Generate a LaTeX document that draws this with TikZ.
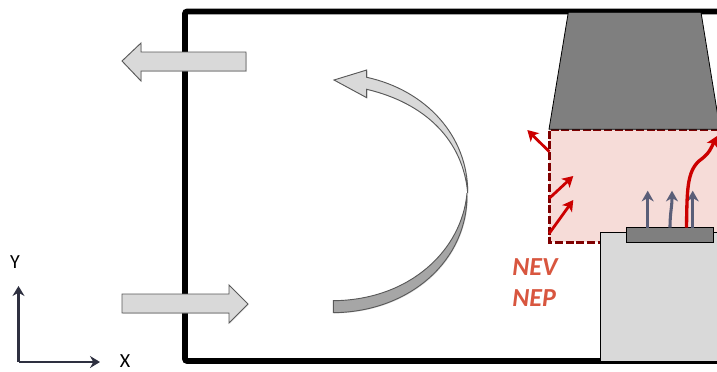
\documentclass[tikz,border=0pt]{standalone}
\usepackage{fontspec}
\setmainfont{Carlito}
\usetikzlibrary{arrows.meta,positioning,shadows}
\definecolor{panelgrey}{HTML}{D9D9D9}
\definecolor{bandgrey}{HTML}{A6A6A6}
\definecolor{solidgrey}{HTML}{7F7F7F}
\definecolor{zonepink}{HTML}{F6DCD8}
\definecolor{zonered}{HTML}{7F0000}
\definecolor{fluxred}{HTML}{CC0000}
\definecolor{fluxblue}{HTML}{5A5E78}
\definecolor{axisdark}{HTML}{2E3040}
\definecolor{labelred}{HTML}{D8563F}
\begin{document}
\begin{tikzpicture}[
    x=0.75pt, y=-0.75pt,
    wall/.style={draw=black, line width=4.2pt, rounded corners=1.5pt},
    block/.style={draw=black!65, line width=0.7pt, fill=panelgrey, line join=miter,
                  drop shadow={shadow xshift=0.6pt, shadow yshift=-0.6pt, opacity=0.25}},
    solid part/.style={draw=black, line width=0.6pt, fill=solidgrey},
    axis/.style={-{Stealth[length=7.5pt, width=9pt, inset=2.5pt]}, axisdark, line width=2pt},
    flux/.style={-{Stealth[length=8pt, width=9pt, inset=2pt]}, fluxred, line width=2.1pt},
    heat/.style={-{Stealth[length=8pt, width=9pt, inset=2.5pt]}, fluxblue, line width=2.3pt},
    lbl/.style={font=\fontsize{15}{15}\selectfont, text=black, inner sep=0pt},
    zonelbl/.style={font=\fontsize{19.5}{19.5}\selectfont\bfseries\itshape, text=labelred, inner sep=0pt, anchor=base west},
  ]
  \clip (0,0) rectangle (717,371);

  % Room
  \draw[wall] (760,11.5) -- (185,11.5) -- (185,361) -- (760,361);

  % Flow through the walls
  \draw[block] (246,52) -- (141,52) -- (141,43) -- (122,61) -- (141,81) -- (141,71) -- (246,71) -- cycle;
  \draw[block] (122,294) -- (229,294) -- (229,285) -- (248,304) -- (229,323) -- (229,313) -- (122,313) -- cycle;

  % Recirculation
  \draw[block, fill=bandgrey] (333.3,300.7) .. controls (410,300) and (462,250) .. (467,193)
    .. controls (468.5,260) and (410,312) .. (333.3,312.7) -- cycle;
  \draw[block] (334,80) -- (366.7,70) -- (366.7,77.3)
    .. controls (425,90) and (468,135) .. (467.7,193)
    .. controls (463,140) and (425,103) .. (366.7,89.3) -- (366.7,97.7) -- cycle;

  % Zone
  \draw[fill=zonepink, draw=zonered, line width=2.1pt, dash pattern=on 6pt off 2pt]
    (740,129.5) -- (549.3,129.5) -- (549.3,242.3) -- (740,242.3);

  % Hood and table
  \draw[solid part] (568.3,12.3) -- (701,12.3) -- (720,129.3) -- (549,129.3) -- cycle;
  \draw[draw=black, line width=0.6pt, fill=panelgrey] (740,232.3) -- (600.7,232.3) -- (600.7,361) -- (740,361);
  \draw[solid part] (626,227.7) rectangle (713.3,242.3);

  % Heat
  \coordinate (heat1a) at (647.7,227.7);
  \coordinate (heat1b) at (647.7,190.7);
  \coordinate (heat2a) at (670,227.7);
  \coordinate (heat2b) at (672,190.7);
  \coordinate (heat3a) at (692.7,227.7);
  \coordinate (heat3b) at (692.7,190.7);
  \draw[heat] (heat1a) -- (heat1b);
  \draw[heat] (heat2a) .. controls (670,212) and (672,208) .. (heat2b);
  \draw[heat] (heat3a) -- (heat3b);

  % Fluxes
  \coordinate (plume) at (686.5,227.7);
  \coordinate (plumetop) at (717,136);
  \coordinate (out) at (549.3,151.7);
  \coordinate (outtip) at (527.3,130);
  \coordinate (in1) at (549.3,198.3);
  \coordinate (in1tip) at (573.3,176);
  \coordinate (in2) at (549.3,233.3);
  \coordinate (in2tip) at (573.3,200);
  \draw[flux, line width=2.5pt] (plume) .. controls (687,190) and (687,172) .. (699,161)
    .. controls (710,153) and (711,148) .. (plumetop);
  \draw[flux] (out) -- (outtip);
  \draw[flux] (in1) -- (in1tip);
  \draw[flux] (in2) -- (in2tip);

  % Labels
  \node[zonelbl] (nev) at (512,275) {NEV};
  \node[zonelbl] (nep) at (512,306.7) {NEP};

  % Axes
  \coordinate (origin) at (18.5,362);
  \coordinate (xtip) at (100,362);
  \coordinate (ytip) at (18.5,286);
  \draw[axis] (origin) -- (xtip);
  \draw[axis] (origin) -- (ytip);
  \node[lbl] (ylabel) at (15,262) {Y};
  \node[lbl] (xlabel) at (125,361) {X};
\end{tikzpicture}
\end{document}
